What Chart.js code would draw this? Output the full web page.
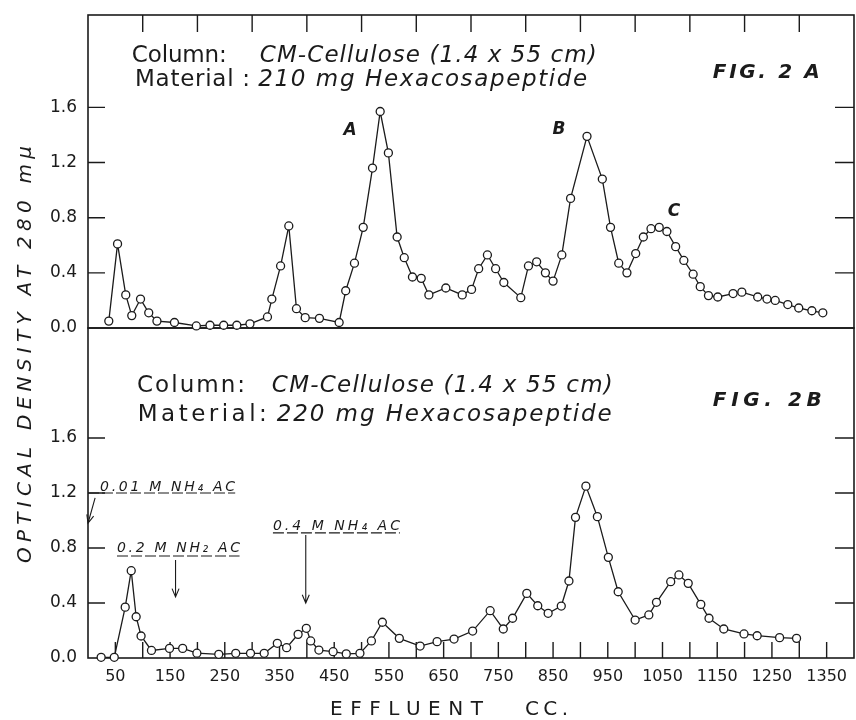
<!DOCTYPE html>
<html>
<head>
<meta charset="utf-8">
<script src="https://cdn.jsdelivr.net/npm/chart.js@4.4.1/dist/chart.umd.min.js"></script>
<style>
  html, body { margin: 0; padding: 0; background: #fff; }
  #wrap { position: relative; width: 856px; height: 720px; }
  canvas { position: absolute; left: 0; top: 0; }
</style>
</head>
<body>
<div id="wrap">
  <canvas id="chartB" width="856" height="720"></canvas>
  <canvas id="chartA" width="856" height="720"></canvas>
</div>
<script>
// Fig. 2A - 210 mg hexacosapeptide, effluent (cc) vs optical density at 280 mu
const effluentA = [38, 54, 69, 80, 96, 111, 126, 158, 198, 223,
    248, 272, 296, 328, 336, 352, 367, 381, 397, 423,
    459, 471, 487, 503, 520, 534, 549, 565, 578, 593,
    609, 623, 654, 684, 701, 714, 730, 745, 760, 791,
    805, 820, 836, 850, 866, 882, 912, 940, 955, 970,
    985, 1001, 1015, 1029, 1044, 1058, 1074, 1089, 1106, 1119,
    1134, 1151, 1179, 1195, 1224, 1241, 1256, 1279, 1299, 1323, 1343];
const densityA = [0.05, 0.61, 0.24, 0.09, 0.21, 0.11, 0.05, 0.04, 0.015, 0.02,
    0.02, 0.02, 0.03, 0.08, 0.21, 0.45, 0.74, 0.14, 0.075, 0.07,
    0.04, 0.27, 0.47, 0.73, 1.16, 1.57, 1.27, 0.66, 0.51, 0.37,
    0.36, 0.24, 0.29, 0.24, 0.28, 0.43, 0.53, 0.43, 0.33, 0.22,
    0.45, 0.48, 0.40, 0.34, 0.53, 0.94, 1.39, 1.08, 0.73, 0.47,
    0.40, 0.54, 0.66, 0.72, 0.73, 0.70, 0.59, 0.49, 0.39, 0.30,
    0.235, 0.225, 0.25, 0.26, 0.225, 0.21, 0.20, 0.17, 0.145, 0.125, 0.11];

// Fig. 2B - 220 mg hexacosapeptide, stepwise NH4 acetate elution
const effluentB = [24, 48, 68, 79, 88, 97, 116, 149, 173, 199,
    239, 270, 297, 322, 346, 363, 384, 399, 407, 422,
    448, 472, 497, 518, 538, 569, 607, 638, 669, 703,
    735, 759, 776, 802, 822, 841, 865, 879, 891, 910,
    931, 951, 969, 1000, 1025, 1039, 1065, 1080, 1097, 1120,
    1135, 1162, 1199, 1223, 1264, 1295];
const densityB = [0.005, 0.005, 0.37, 0.635, 0.30, 0.16, 0.055, 0.07, 0.07, 0.035,
    0.027, 0.034, 0.034, 0.034, 0.107, 0.075, 0.172, 0.216, 0.124, 0.058,
    0.046, 0.03, 0.034, 0.124, 0.26, 0.143, 0.087, 0.119, 0.138, 0.196,
    0.344, 0.211, 0.289, 0.47, 0.38, 0.325, 0.378, 0.56, 1.023, 1.25,
    1.028, 0.732, 0.482, 0.276, 0.313, 0.405, 0.555, 0.604, 0.543, 0.39,
    0.289, 0.211, 0.175, 0.162, 0.148, 0.143];

const xTickLabels = [50, 150, 250, 350, 450, 550, 650, 750, 850, 950, 1050, 1150, 1250, 1350];
const yTickLabels = [0, 0.4, 0.8, 1.2, 1.6];

const INK = '#1b1b1b';
const FONT = '"DejaVu Sans", sans-serif';

// text notes, placed in data units of their panel
const notesA = [
    {text: 'Column:', x: 80, y: 1.97, font: '23px', width: 95},
    {text: 'CM-Cellulose (1.4 x 55 cm)', x: 314, y: 1.97, font: 'italic 23px', width: 337},
    {text: 'Material :', x: 86, y: 1.80, font: '23px', width: 115},
    {text: '210 mg Hexacosapeptide', x: 311, y: 1.80, font: 'italic 23px', width: 329},
    {text: 'FIG. 2 A', x: 1142, y: 1.853, font: 'italic bold 20px', width: 107},
    {text: 'A', x: 479, y: 1.43, font: 'italic bold 17px'},
    {text: 'B', x: 861, y: 1.44, font: 'italic bold 17px'},
    {text: 'C', x: 1071, y: 0.845, font: 'italic bold 17px'}
];
const notesB = [
    {text: 'Column:', x: 89.6, y: 1.98, font: '23px', width: 108},
    {text: 'CM-Cellulose (1.4 x 55 cm)', x: 336, y: 1.98, font: 'italic 23px', width: 341},
    {text: 'Material:', x: 91, y: 1.77, font: '23px', width: 129},
    {text: '220 mg Hexacosapeptide', x: 345, y: 1.77, font: 'italic 23px', width: 335},
    {text: 'FIG. 2B', x: 1142, y: 1.873, font: 'italic bold 20px', width: 109},
    {text: '0.01 M NH₄ AC', x: 22, y: 1.244, font: 'italic 14px', width: 135},
    {text: '0.2 M NH₂ AC', x: 53, y: 0.795, font: 'italic 14px', width: 123},
    {text: '0.4 M NH₄ AC', x: 338, y: 0.96, font: 'italic 14px', width: 127}
];
// buffer changes: underline [x1, x2, y] and arrow [x1, y1, x2, y2]
const buffersB = [
    {line: [0, 269, 1.2], arrow: [13, 1.165, 0, 0.98]},
    {line: [53, 277, 0.742], arrow: [160, 0.713, 160, 0.444]},
    {line: [338, 570, 0.91], arrow: [398, 0.895, 398, 0.40]}
];

function toPoints(xs, ys) {
    return xs.map((x, i) => ({x: x, y: ys[i]}));
}

function spacedText(ctx, text, x, y, width) {
    ctx.letterSpacing = '0px';
    const natural = ctx.measureText(text).width;
    const gaps = Array.from(text).length - 1;
    ctx.letterSpacing = (gaps > 0 ? (width - natural) / gaps : 0) + 'px';
    ctx.fillText(text, x, y);
    ctx.letterSpacing = '0px';
}

function arrow(ctx, x1, y1, x2, y2) {
    const ang = Math.atan2(y2 - y1, x2 - x1);
    ctx.moveTo(x1, y1);
    ctx.lineTo(x2, y2);
    ctx.moveTo(x2 - 9 * Math.cos(ang - 0.4), y2 - 9 * Math.sin(ang - 0.4));
    ctx.lineTo(x2, y2);
    ctx.lineTo(x2 - 9 * Math.cos(ang + 0.4), y2 - 9 * Math.sin(ang + 0.4));
}

function isTick(list, v) {
    return list.some(t => Math.abs(t - v) < 1e-6);
}

// frame, inward tick marks and notes for one panel
function panelPlugin(tickSide, notes, buffers, titles) {
    return {
        id: 'panel',
        beforeDatasetsDraw(chart) {
            const {ctx, chartArea: a, scales: {x, y}} = chart;
            ctx.save();
            ctx.strokeStyle = INK;
            ctx.lineWidth = 1.6;
            ctx.strokeRect(a.left, a.top, a.right - a.left, a.bottom - a.top);
            ctx.lineWidth = 1.4;
            ctx.beginPath();
            x.ticks.forEach(t => {
                if (t.value <= 0 || t.value >= x.max) return;
                const px = x.getPixelForValue(t.value);
                if (tickSide === 'top') {
                    ctx.moveTo(px, a.top);
                    ctx.lineTo(px, a.top + 17);
                } else {
                    ctx.moveTo(px, a.bottom);
                    ctx.lineTo(px, a.bottom - 16);
                }
            });
            yTickLabels.forEach(v => {
                if (v === 0) return;
                const py = y.getPixelForValue(v);
                ctx.moveTo(a.left, py);
                ctx.lineTo(a.left + 17, py);
                ctx.moveTo(a.right, py);
                ctx.lineTo(a.right - 19, py);
            });
            ctx.stroke();

            ctx.lineWidth = 1.1;
            buffers.forEach(b => {
                ctx.beginPath();
                ctx.setLineDash([11, 3]);
                ctx.moveTo(x.getPixelForValue(b.line[0]), y.getPixelForValue(b.line[2]));
                ctx.lineTo(x.getPixelForValue(b.line[1]), y.getPixelForValue(b.line[2]));
                ctx.stroke();
                ctx.setLineDash([]);
                ctx.beginPath();
                arrow(ctx, x.getPixelForValue(b.arrow[0]), y.getPixelForValue(b.arrow[1]),
                    x.getPixelForValue(b.arrow[2]), y.getPixelForValue(b.arrow[3]));
                ctx.stroke();
            });
            ctx.restore();
        },
        afterDraw(chart) {
            const {ctx, scales: {x, y}} = chart;
            ctx.save();
            ctx.fillStyle = INK;
            ctx.textBaseline = 'middle';
            notes.forEach(n => {
                ctx.font = n.font + ' ' + FONT;
                const px = x.getPixelForValue(n.x);
                const py = y.getPixelForValue(n.y);
                if (n.width) {
                    ctx.textAlign = 'left';
                    spacedText(ctx, n.text, px, py, n.width);
                } else {
                    ctx.textAlign = 'center';
                    ctx.fillText(n.text, px, py);
                }
            });
            if (titles) {
                // axis titles shared by both panels
                ctx.textAlign = 'left';
                ctx.font = '20px ' + FONT;
                spacedText(ctx, 'EFFLUENT', 330, 710, 153);
                spacedText(ctx, 'CC.', 525, 710, 43);
                ctx.translate(26, 355);
                ctx.rotate(-Math.PI / 2);
                ctx.font = 'italic 20px ' + FONT;
                spacedText(ctx, 'OPTICAL DENSITY AT 280 mμ', -208, 0, 417);
            }
            ctx.restore();
        }
    };
}

function lineDataset(xs, ys) {
    return {
        data: toPoints(xs, ys),
        borderColor: INK,
        borderWidth: 1.3,
        pointRadius: 4,
        pointBackgroundColor: '#fff',
        pointBorderColor: INK,
        pointBorderWidth: 1.3,
        tension: 0,
        clip: false
    };
}

// y labels start at x=50 (layout padding) and are drawn left-aligned in a 38px box
function yScale(max) {
    return {
        type: 'linear',
        min: 0,
        max: max,
        grid: {display: false, drawTicks: false},
        border: {display: false},
        ticks: {
            stepSize: 0.4,
            padding: 0,
            crossAlign: 'far',
            color: INK,
            font: {family: FONT, size: 17},
            callback: v => isTick(yTickLabels, v) ? v.toFixed(1) : ''
        },
        afterFit: s => { s.width = 38; }
    };
}

const common = {
    responsive: false,
    animation: false,
    events: [],
    plugins: {legend: {display: false}, tooltip: {enabled: false}}
};

new Chart(document.getElementById('chartA'), {
    type: 'line',
    data: {datasets: [lineDataset(effluentA, densityA)]},
    options: Object.assign({}, common, {
        layout: {autoPadding: false, padding: {top: 15, right: 2, bottom: 392, left: 50}},
        scales: {
            x: {type: 'linear', min: 0, max: 1400, display: false, ticks: {stepSize: 50}},
            y: yScale(2.27)
        }
    }),
    plugins: [panelPlugin('top', notesA, [], false)]
});

new Chart(document.getElementById('chartB'), {
    type: 'line',
    data: {datasets: [lineDataset(effluentB, densityB)]},
    options: Object.assign({}, common, {
        layout: {autoPadding: false, padding: {top: 328, right: 2, bottom: 0, left: 50}},
        scales: {
            x: {
                type: 'linear',
                min: 0,
                max: 1400,
                grid: {display: false, drawTicks: false},
                border: {display: false},
                ticks: {
                    stepSize: 50,
                    autoSkip: false,
                    maxRotation: 0,
                    padding: 0,
                    color: INK,
                    // tall line box pushes the label centre ~19px below the frame
                    font: {family: FONT, size: 16, lineHeight: 2.4},
                    callback: v => isTick(xTickLabels, v) ? String(v) : ''
                },
                afterFit: s => { s.height = 62; }
            },
            y: yScale(2.4)
        }
    }),
    plugins: [panelPlugin('bottom', notesB, buffersB, true)]
});
</script>
</body>
</html>
